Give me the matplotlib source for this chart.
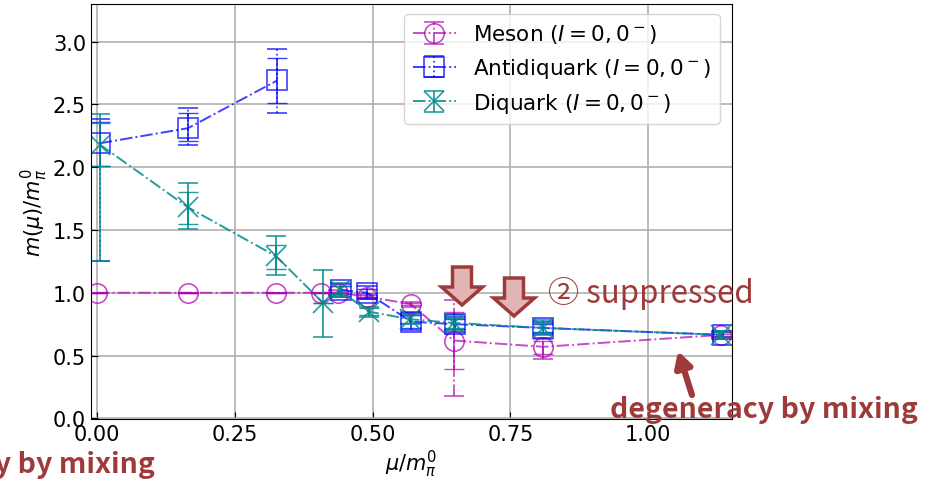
import numpy as np
import matplotlib
matplotlib.use("Agg")
import matplotlib.pyplot as plt
from matplotlib.patches import Polygon

nan = np.nan

# meson (I=0, 0-)
x_meson = [0.0, 0.165, 0.325, 0.407, 0.438, 0.489, 0.569, 0.647, 0.81, 1.133]
y_meson = [1.0, 1.0, 1.0, 1.0, 1.0, 0.97, 0.91, 0.62, 0.57, 0.665]
meson_in_lo = [0, 0, 0, 0, 0.01, 0.01, 0.01, 0.23, 0.06, 0.01]
meson_in_hi = [0, 0, 0, 0, 0.01, 0.01, 0.01, 0.23, 0.05, 0.01]
meson_out_lo = [0, 0, 0, 0, 0.02, 0.02, 0.02, 0.44, 0.10, 0.02]
meson_out_hi = [0, 0, 0, 0, 0.02, 0.02, 0.02, 0.32, 0.06, 0.02]

# antidiquark (I=0, 0-), no state at mu=0.41
x_anti = [0.005, 0.165, 0.327, 0.41, 0.442, 0.49, 0.57, 0.65, 0.81, 1.135]
y_anti = [2.19, 2.31, 2.69, nan, 1.02, 1.0, 0.77, 0.75, 0.72, 0.665]
anti_in_lo = [0.18, 0.10, 0.18, 0, 0.03, 0.03, 0.05, 0.04, 0.03, 0.02]
anti_in_hi = [0.17, 0.12, 0.18, 0, 0.03, 0.03, 0.05, 0.04, 0.03, 0.02]
anti_out_lo = [0.94, 0.13, 0.26, 0, 0.05, 0.05, 0.07, 0.06, 0.05, 0.03]
anti_out_hi = [0.19, 0.16, 0.25, 0, 0.05, 0.05, 0.07, 0.06, 0.05, 0.03]

# diquark (I=0, 0-)
x_di = [0.005, 0.165, 0.325, 0.41, 0.44, 0.493, 0.567, 0.647, 0.81, 1.133]
y_di = [2.18, 1.68, 1.29, 0.92, 1.02, 0.85, 0.79, 0.76, 0.72, 0.665]
di_in_lo = [0.17, 0.13, 0.10, 0, 0.03, 0.03, 0.03, 0.04, 0.04, 0.02]
di_in_hi = [0.17, 0.12, 0.09, 0, 0.03, 0.03, 0.03, 0.04, 0.04, 0.02]
di_out_lo = [0.93, 0.17, 0.15, 0.27, 0.05, 0.04, 0.04, 0.06, 0.06, 0.03]
di_out_hi = [0.24, 0.19, 0.16, 0.26, 0.06, 0.04, 0.04, 0.06, 0.06, 0.03]

x_ticks = [0.0, 0.25, 0.5, 0.75, 1.0]
y_ticks = [0.0, 0.5, 1.0, 1.5, 2.0, 2.5, 3.0]

fig = plt.figure(figsize=(9.31, 4.81), dpi=100)
ax = fig.add_axes([0.0977, 0.127, 0.6885, 0.863])

def draw(x, y, in_lo, in_hi, out_lo, out_hi, color, marker, label, barstyle, alpha):
    eb = ax.errorbar(x, y, yerr=[out_lo, out_hi], fmt=marker, linestyle="-.",
                     color=color, mfc="none", ms=14, mew=1.2, lw=1.4,
                     capsize=7, elinewidth=1.3, alpha=alpha, label=label)
    eb[2][0].set_linestyle(barstyle)
    ax.errorbar(x, y, yerr=[in_lo, in_hi], fmt="none", ecolor=color,
                capsize=7, elinewidth=1.3, alpha=alpha)
    return eb

draw(x_meson, y_meson, meson_in_lo, meson_in_hi, meson_out_lo, meson_out_hi,
     "#b000b0", "o", r"Meson ($I=0,0^-$)", "-.", 0.7)
draw(x_anti, y_anti, anti_in_lo, anti_in_hi, anti_out_lo, anti_out_hi,
     "b", "s", r"Antidiquark ($I=0,0^-$)", ":", 0.75)
draw(x_di, y_di, di_in_lo, di_in_hi, di_out_lo, di_out_hi,
     "#008b8b", "x", r"Diquark ($I=0,0^-$)", "-", 0.85)

ax.set_xlim(-0.011, 1.152)
ax.set_ylim(-0.004, 3.30)
ax.set_xticks(x_ticks)
ax.set_yticks(y_ticks)
ax.tick_params(direction="in", labelsize=15, length=5)
ax.grid(True, color="#b0b0b0", lw=1.2)
ax.set_xlabel(r"$\mu/m_\pi^0$", fontsize=15, labelpad=3)
ax.set_ylabel(r"$m(\mu)/m_\pi^0$", fontsize=15, labelpad=2)
ax.legend(loc="upper right", fontsize=15.5, framealpha=0.8,
          bbox_to_anchor=(0.981, 0.976), borderaxespad=0, handlelength=2.0)

# overlay in pixel coordinates for the annotations
ov = fig.add_axes([0, 0, 1, 1], facecolor="none")
ov.set_xlim(0, 931)
ov.set_ylim(481, 0)
ov.axis("off")

red = "#9e3a3a"
for cx, top in [(462, 268), (514, 279)]:
    pts = [(cx - 9.5, top), (cx + 9.5, top), (cx + 9.5, top + 20),
           (cx + 20.5, top + 20), (cx, top + 38), (cx - 20.5, top + 20),
           (cx - 9.5, top + 20)]
    ov.add_patch(Polygon(pts, closed=True, fc="#e3b4b4", ec=red, lw=2.5,
                         joinstyle="miter"))

cjk = ["Noto Sans CJK JP", "DejaVu Sans"]
ov.text(548, 294, "② suppressed", color=red, fontsize=22.5, family=cjk,
        va="center", ha="left")
ov.text(918, 410, "degeneracy by mixing", color=red, fontsize=20.5, family=cjk,
        fontweight="bold", va="center", ha="right")
ov.text(155, 465, "degeneracy by mixing", color=red, fontsize=20.5, family=cjk,
        fontweight="bold", va="center", ha="right")
ov.annotate("", xy=(678, 352), xytext=(692, 396),
            arrowprops=dict(arrowstyle="-|>,head_width=0.5,head_length=0.9",
                            color=red, lw=4.5, shrinkA=0, shrinkB=0))

fig.savefig("out.png", dpi=100)
